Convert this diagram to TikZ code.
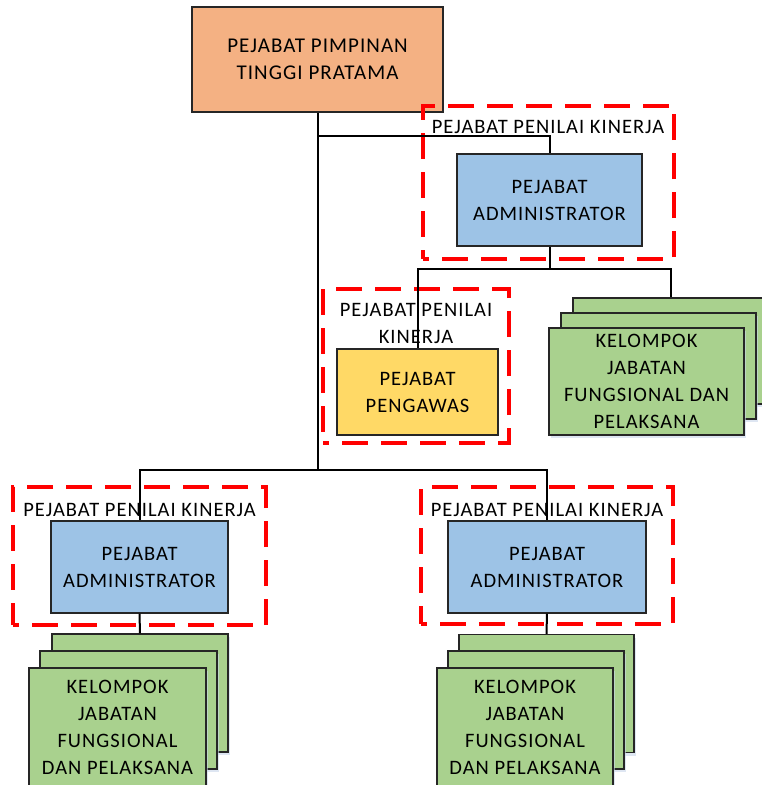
\documentclass[tikz,border=0pt]{standalone}
\usepackage{fontspec}
\setmainfont{Carlito}[LetterSpace=5]
\usetikzlibrary{shadows}
\definecolor{orgfill}{HTML}{F4B183}
\definecolor{admfill}{HTML}{9DC3E6}
\definecolor{pengfill}{HTML}{FFD966}
\definecolor{kjffill}{HTML}{A9D18E}
\definecolor{edge}{HTML}{262626}
\definecolor{glow}{HTML}{C9D6EA}
\tikzset{
  box/.style={draw=edge, line width=1.4pt, inner sep=0pt, align=center,
              text=black, font=\fontsize{20.5}{27}\selectfont},
  stackbox/.style={box, fill=kjffill,
              drop shadow={shadow xshift=2pt, shadow yshift=-3pt, fill=glow, opacity=0.6}},
  penilai/.style={draw=red, line width=3.3pt, dash pattern=on 26pt off 13pt,
              dash phase=20pt, inner sep=0pt},
  lbl/.style={inner sep=0pt, align=center, text=black,
              font=\fontsize{20.5}{27}\selectfont},
  conn/.style={draw=black, line width=2pt},
}
\begin{document}
\begin{tikzpicture}[x=1pt, y=-1pt]
\fill[white] (0,0) rectangle (762,785);
\useasboundingbox (0,0) rectangle (762,785);
\clip (0,0) rectangle (762,785);

% head of the unit
\node[box, fill=orgfill, minimum width=251, minimum height=105,
      font=\fontsize{21}{27}\selectfont] (top) at (317.5,59.5)
      {PEJABAT PIMPINAN\\TINGGI PRATAMA};

% dashed frames of the performance assessors
\node[penilai, minimum width=251, minimum height=153] (ppk1) at (548.5,182.5) {};
\node[penilai, minimum width=186, minimum height=154] (ppk2) at (416,366) {};
\node[penilai, minimum width=253, minimum height=138] (ppk3) at (139.5,556) {};
\node[penilai, minimum width=252, minimum height=137] (ppk4) at (547,555.5) {};

\node[lbl] (lbl1) at (548,127) {PEJABAT PENILAI KINERJA};
\node[lbl] (lbl2) at (416,323.5) {PEJABAT PENILAI\\KINERJA};
\node[lbl] (lbl3) at (139.5,509.5) {PEJABAT PENILAI KINERJA};
\node[lbl] (lbl4) at (547,509.5) {PEJABAT PENILAI KINERJA};

% administrators and supervisor
\node[box, fill=admfill, minimum width=185, minimum height=92] (adm1) at (549.5,200) {PEJABAT\\ADMINISTRATOR};
\node[box, fill=admfill, minimum width=177, minimum height=92] (adm3) at (139.5,567) {PEJABAT\\ADMINISTRATOR};
\node[box, fill=admfill, minimum width=198, minimum height=92] (adm4) at (547,567) {PEJABAT\\ADMINISTRATOR};
\node[box, fill=pengfill, minimum width=161, minimum height=86] (peng) at (417.5,392) {PEJABAT\\PENGAWAS};

% stacked groups of functional positions
\node[stackbox, minimum width=195, minimum height=106] (kjf1a) at (670.5,351) {};
\node[stackbox, minimum width=195, minimum height=106] (kjf1b) at (658.5,366) {};
\node[stackbox, minimum width=195, minimum height=107] (kjf1c) at (646.5,381.5)
      {KELOMPOK\\JABATAN\\FUNGSIONAL DAN\\PELAKSANA};

\node[stackbox, minimum width=176, minimum height=118] (kjf3a) at (140,693) {};
\node[stackbox, minimum width=177, minimum height=118] (kjf3b) at (128.5,710) {};
\node[stackbox, minimum width=177, minimum height=118] (kjf3c) at (117.5,727)
      {KELOMPOK\\JABATAN\\FUNGSIONAL\\DAN PELAKSANA};

\node[stackbox, minimum width=175, minimum height=118] (kjf4a) at (546.5,693.5) {};
\node[stackbox, minimum width=176, minimum height=118] (kjf4b) at (536,710) {};
\node[stackbox, minimum width=176, minimum height=118] (kjf4c) at (525,727)
      {KELOMPOK\\JABATAN\\FUNGSIONAL\\DAN PELAKSANA};

% connectors
\coordinate (j1) at (317.5,136);
\coordinate (j2) at (317.5,470);
\coordinate (j3) at (549.5,269);
\draw[conn] (top.south) -- (j2);
\draw[conn] (j1) -| (adm1.north);
\draw[conn] (adm1.south) -- (j3);
\draw[conn] (peng.north) |- (j3) -| (kjf1a.north);
\draw[conn] (adm3.north) |- (j2) -| (adm4.north);
\draw[conn] (adm3.south) -- (kjf3a.north);
\draw[conn] (adm4.south) -- (kjf4a.north);
\end{tikzpicture}
\end{document}
